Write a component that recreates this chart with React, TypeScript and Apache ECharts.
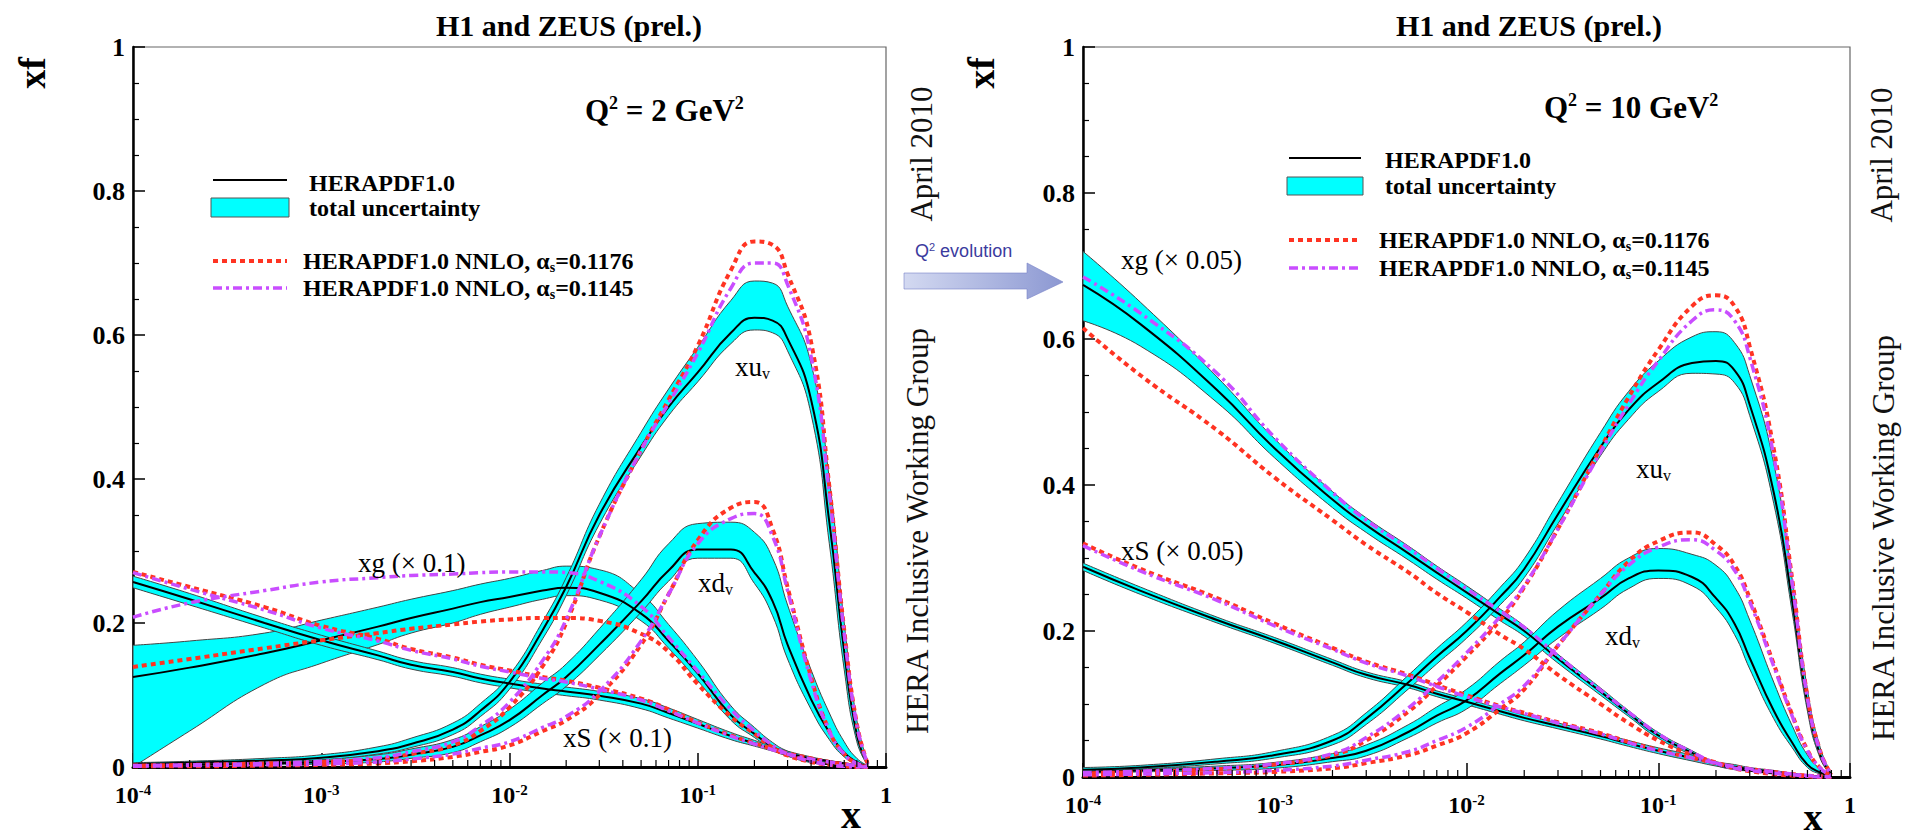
import React, { useEffect, useRef } from 'react';
import * as echarts from 'echarts';

// ---------- shared x grid ----------
const X_GRID = [1e-4, 2e-4, 5e-4, 1e-3, 2e-3, 3e-3, 5e-3, 7e-3, 1e-2, 1.5e-2, 2e-2, 3e-2, 5e-2, 0.07, 0.1, 0.15, 0.2, 0.25, 0.3, 0.4, 0.5, 0.6, 0.7, 0.8];

// ---------- Left panel: Q^2 = 2 GeV^2 ----------
const L_UV = [0.004, 0.006, 0.009, 0.013, 0.022, 0.032, 0.052, 0.078, 0.118, 0.19, 0.25, 0.35, 0.445, 0.5, 0.548, 0.603, 0.624, 0.62, 0.595, 0.51, 0.34, 0.16, 0.045, 0.004];
const L_UV_HI = [0.006, 0.008, 0.012, 0.017, 0.028, 0.04, 0.061, 0.088, 0.128, 0.202, 0.263, 0.365, 0.465, 0.525, 0.583, 0.648, 0.675, 0.672, 0.64, 0.56, 0.4, 0.2, 0.065, 0.006];
const L_UV_LO = [0.002, 0.004, 0.007, 0.01, 0.018, 0.027, 0.045, 0.07, 0.108, 0.178, 0.238, 0.337, 0.432, 0.488, 0.535, 0.588, 0.607, 0.603, 0.578, 0.49, 0.31, 0.135, 0.035, 0.002];
const L_UV_RED = [0.002, 0.003, 0.005, 0.007, 0.011, 0.018, 0.03, 0.05, 0.083, 0.14, 0.2, 0.32, 0.44, 0.51, 0.585, 0.69, 0.73, 0.725, 0.685, 0.59, 0.39, 0.19, 0.06, 0.004];
const L_UV_MAG = [0.002, 0.003, 0.005, 0.008, 0.013, 0.021, 0.035, 0.057, 0.09, 0.148, 0.205, 0.32, 0.44, 0.505, 0.575, 0.665, 0.7, 0.7, 0.67, 0.57, 0.38, 0.185, 0.058, 0.004];

const L_DV = [0.002, 0.003, 0.005, 0.007, 0.011, 0.017, 0.028, 0.044, 0.065, 0.1, 0.125, 0.17, 0.23, 0.273, 0.302, 0.302, 0.27, 0.23, 0.17, 0.094, 0.048, 0.02, 0.007, 0.001];
const L_DV_HI = [0.003, 0.005, 0.008, 0.011, 0.017, 0.025, 0.038, 0.056, 0.08, 0.117, 0.143, 0.192, 0.26, 0.31, 0.338, 0.34, 0.326, 0.29, 0.225, 0.135, 0.075, 0.035, 0.012, 0.002];
const L_DV_LO = [0.001, 0.002, 0.003, 0.004, 0.007, 0.012, 0.02, 0.035, 0.055, 0.088, 0.112, 0.155, 0.215, 0.258, 0.29, 0.29, 0.255, 0.21, 0.15, 0.08, 0.038, 0.014, 0.004, 0];
const L_DV_RED = [0.001, 0.001, 0.002, 0.003, 0.005, 0.008, 0.014, 0.021, 0.03, 0.05, 0.065, 0.1, 0.17, 0.24, 0.315, 0.36, 0.368, 0.33, 0.25, 0.125, 0.05, 0.018, 0.005, 0];
const L_DV_MAG = [0.001, 0.002, 0.003, 0.004, 0.007, 0.011, 0.018, 0.026, 0.035, 0.055, 0.07, 0.105, 0.175, 0.24, 0.31, 0.345, 0.352, 0.32, 0.245, 0.12, 0.05, 0.018, 0.005, 0];

const L_G = [0.125, 0.138, 0.158, 0.176, 0.195, 0.207, 0.22, 0.229, 0.236, 0.245, 0.249, 0.242, 0.213, 0.175, 0.13, 0.072, 0.046, 0.028, 0.018, 0.008, 0.004, 0.001, 0, 0];
const L_G_HI = [0.169, 0.175, 0.186, 0.204, 0.222, 0.233, 0.245, 0.254, 0.262, 0.273, 0.279, 0.274, 0.24, 0.198, 0.148, 0.085, 0.055, 0.034, 0.022, 0.01, 0.005, 0.002, 0.001, 0];
const L_G_LO = [0, 0.05, 0.115, 0.144, 0.17, 0.186, 0.2, 0.212, 0.222, 0.233, 0.238, 0.232, 0.203, 0.165, 0.12, 0.065, 0.041, 0.024, 0.015, 0.006, 0.003, 0.001, 0, 0];
const L_G_RED = [0.139, 0.15, 0.165, 0.176, 0.186, 0.192, 0.198, 0.202, 0.205, 0.207, 0.207, 0.203, 0.185, 0.16, 0.115, 0.07, 0.046, 0.027, 0.016, 0.007, 0.003, 0.001, 0, 0];
const L_G_MAG = [0.208, 0.228, 0.245, 0.257, 0.263, 0.266, 0.268, 0.27, 0.271, 0.271, 0.27, 0.258, 0.223, 0.18, 0.133, 0.08, 0.05, 0.03, 0.018, 0.008, 0.003, 0.001, 0, 0];

const L_S = [0.257, 0.233, 0.2, 0.176, 0.155, 0.142, 0.132, 0.123, 0.116, 0.109, 0.105, 0.099, 0.088, 0.075, 0.06, 0.043, 0.033, 0.025, 0.019, 0.012, 0.008, 0.005, 0.002, 0.001];
const L_S_HI = [0.265, 0.241, 0.207, 0.183, 0.161, 0.148, 0.138, 0.129, 0.122, 0.115, 0.111, 0.105, 0.095, 0.082, 0.066, 0.048, 0.037, 0.028, 0.022, 0.014, 0.009, 0.006, 0.003, 0.001];
const L_S_LO = [0.249, 0.225, 0.193, 0.169, 0.149, 0.136, 0.126, 0.117, 0.11, 0.103, 0.099, 0.093, 0.081, 0.068, 0.054, 0.038, 0.029, 0.022, 0.016, 0.01, 0.006, 0.004, 0.001, 0];
const L_S_RED = [0.271, 0.25, 0.222, 0.196, 0.178, 0.164, 0.152, 0.142, 0.134, 0.125, 0.12, 0.11, 0.095, 0.08, 0.062, 0.044, 0.033, 0.025, 0.019, 0.012, 0.007, 0.004, 0.002, 0];
const L_S_MAG = [0.27, 0.247, 0.218, 0.193, 0.175, 0.162, 0.15, 0.14, 0.132, 0.123, 0.118, 0.108, 0.093, 0.078, 0.061, 0.043, 0.032, 0.024, 0.018, 0.011, 0.007, 0.004, 0.002, 0];

// ---------- Right panel: Q^2 = 10 GeV^2 ----------
const R_UV = [0.01, 0.013, 0.021, 0.03, 0.05, 0.08, 0.13, 0.165, 0.2, 0.247, 0.285, 0.36, 0.452, 0.503, 0.54, 0.567, 0.57, 0.557, 0.51, 0.39, 0.24, 0.1, 0.03, 0.003];
const R_UV_HI = [0.013, 0.016, 0.025, 0.035, 0.057, 0.088, 0.14, 0.176, 0.212, 0.26, 0.299, 0.376, 0.472, 0.528, 0.57, 0.603, 0.61, 0.595, 0.55, 0.43, 0.27, 0.12, 0.04, 0.005];
const R_UV_LO = [0.008, 0.011, 0.018, 0.026, 0.044, 0.072, 0.121, 0.155, 0.19, 0.236, 0.273, 0.347, 0.44, 0.49, 0.528, 0.553, 0.552, 0.54, 0.495, 0.375, 0.225, 0.09, 0.025, 0.002];
const R_UV_RED = [0.005, 0.007, 0.011, 0.017, 0.03, 0.05, 0.09, 0.125, 0.165, 0.215, 0.26, 0.34, 0.45, 0.52, 0.585, 0.645, 0.66, 0.645, 0.59, 0.45, 0.27, 0.11, 0.035, 0.003];
const R_UV_MAG = [0.006, 0.008, 0.012, 0.018, 0.032, 0.054, 0.095, 0.13, 0.17, 0.22, 0.262, 0.34, 0.445, 0.51, 0.57, 0.625, 0.64, 0.625, 0.575, 0.44, 0.265, 0.108, 0.034, 0.003];

const R_DV = [0.007, 0.009, 0.012, 0.016, 0.026, 0.036, 0.062, 0.084, 0.105, 0.142, 0.167, 0.206, 0.245, 0.272, 0.283, 0.274, 0.245, 0.21, 0.163, 0.091, 0.047, 0.017, 0.006, 0.001];
const R_DV_HI = [0.009, 0.011, 0.015, 0.02, 0.032, 0.044, 0.072, 0.096, 0.12, 0.159, 0.185, 0.228, 0.272, 0.3, 0.313, 0.305, 0.29, 0.26, 0.215, 0.13, 0.07, 0.03, 0.011, 0.002];
const R_DV_LO = [0.005, 0.007, 0.009, 0.012, 0.021, 0.029, 0.054, 0.074, 0.093, 0.128, 0.153, 0.19, 0.23, 0.258, 0.272, 0.262, 0.232, 0.195, 0.148, 0.08, 0.04, 0.013, 0.004, 0];
const R_DV_RED = [0.002, 0.003, 0.005, 0.007, 0.012, 0.019, 0.03, 0.043, 0.06, 0.093, 0.12, 0.18, 0.25, 0.295, 0.323, 0.335, 0.318, 0.29, 0.245, 0.155, 0.085, 0.037, 0.012, 0.002];
const R_DV_MAG = [0.003, 0.004, 0.006, 0.009, 0.015, 0.023, 0.035, 0.05, 0.068, 0.1, 0.125, 0.18, 0.25, 0.29, 0.315, 0.325, 0.31, 0.283, 0.24, 0.152, 0.083, 0.036, 0.012, 0.002];

const R_G = [0.674, 0.62, 0.53, 0.45, 0.38, 0.345, 0.306, 0.28, 0.253, 0.222, 0.2, 0.162, 0.117, 0.087, 0.057, 0.033, 0.018, 0.012, 0.009, 0.005, 0.003, 0.001, 0, 0];
const R_G_HI = [0.72, 0.65, 0.548, 0.463, 0.391, 0.355, 0.316, 0.289, 0.262, 0.23, 0.207, 0.168, 0.122, 0.091, 0.061, 0.036, 0.02, 0.014, 0.01, 0.006, 0.003, 0.001, 0, 0];
const R_G_LO = [0.625, 0.59, 0.513, 0.437, 0.369, 0.335, 0.297, 0.271, 0.245, 0.214, 0.193, 0.156, 0.112, 0.083, 0.053, 0.03, 0.016, 0.01, 0.008, 0.004, 0.002, 0.001, 0, 0];
const R_G_RED = [0.615, 0.55, 0.475, 0.41, 0.352, 0.318, 0.28, 0.252, 0.226, 0.195, 0.175, 0.14, 0.1, 0.074, 0.05, 0.03, 0.02, 0.012, 0.008, 0.004, 0.002, 0.001, 0, 0];
const R_G_MAG = [0.685, 0.635, 0.553, 0.465, 0.39, 0.352, 0.313, 0.286, 0.258, 0.227, 0.205, 0.166, 0.119, 0.089, 0.059, 0.034, 0.019, 0.012, 0.009, 0.005, 0.003, 0.001, 0, 0];

const R_S = [0.288, 0.255, 0.215, 0.187, 0.157, 0.14, 0.126, 0.114, 0.103, 0.09, 0.081, 0.07, 0.056, 0.046, 0.036, 0.026, 0.018, 0.014, 0.011, 0.007, 0.004, 0.002, 0.001, 0];
const R_S_HI = [0.293, 0.26, 0.219, 0.191, 0.161, 0.144, 0.13, 0.118, 0.107, 0.094, 0.085, 0.074, 0.06, 0.05, 0.04, 0.03, 0.021, 0.017, 0.013, 0.009, 0.005, 0.003, 0.001, 0];
const R_S_LO = [0.283, 0.25, 0.211, 0.183, 0.153, 0.136, 0.122, 0.11, 0.099, 0.086, 0.077, 0.066, 0.052, 0.042, 0.032, 0.022, 0.015, 0.011, 0.009, 0.005, 0.003, 0.001, 0, 0];
const R_S_RED = [0.32, 0.285, 0.245, 0.21, 0.177, 0.158, 0.14, 0.126, 0.112, 0.097, 0.088, 0.075, 0.06, 0.048, 0.037, 0.026, 0.019, 0.014, 0.011, 0.007, 0.004, 0.002, 0.001, 0];
const R_S_MAG = [0.317, 0.282, 0.242, 0.207, 0.175, 0.156, 0.138, 0.124, 0.11, 0.096, 0.087, 0.074, 0.059, 0.047, 0.036, 0.026, 0.019, 0.014, 0.011, 0.007, 0.004, 0.002, 0.001, 0];

// ---------- axis decoration ----------
const DECADES = [1e-4, 1e-3, 1e-2, 1e-1];
const MANTISSAS = [2, 3, 4, 5, 6, 7, 8, 9];
const Y_TICKS_MAJOR = 0.2;

const SERIF = 'Liberation Serif';
const CYAN = '#00ffff';
const RED = '#ff3322';
const MAGENTA = '#c94dff';
const SMOOTH = 0.5;

function smoothPath(pts: number[][], smooth: number, start: string): string {
  let d = '';
  let prevX = 0, prevY = 0, cpx0 = 0, cpy0 = 0;
  const n = pts.length;
  const f = (v: number) => v.toFixed(2);
  for (let k = 0; k < n; k++) {
    const x = pts[k][0], y = pts[k][1];
    if (k === 0) {
      d += `${start} ${f(x)} ${f(y)} `;
      cpx0 = x; cpy0 = y;
    } else {
      let cpx1 = x, cpy1 = y, ncx = x, ncy = y;
      if (k < n - 1) {
        const nx = pts[k + 1][0], ny = pts[k + 1][1];
        const vx = nx - prevX, vy = ny - prevY;
        const l0 = Math.hypot(x - prevX, y - prevY) || 1e-6;
        const l1 = Math.hypot(nx - x, ny - y) || 1e-6;
        const r = l1 / (l0 + l1);
        ncx = x + vx * smooth * r; ncy = y + vy * smooth * r;
        ncx = Math.max(Math.min(ncx, Math.max(nx, x)), Math.min(nx, x));
        ncy = Math.max(Math.min(ncy, Math.max(ny, y)), Math.min(ny, y));
        const vx2 = ncx - x, vy2 = ncy - y;
        cpx1 = x - vx2 * l0 / l1; cpy1 = y - vy2 * l0 / l1;
        cpx1 = Math.max(Math.min(cpx1, Math.max(prevX, x)), Math.min(prevX, x));
        cpy1 = Math.max(Math.min(cpy1, Math.max(prevY, y)), Math.min(prevY, y));
        const vx3 = x - cpx1, vy3 = y - cpy1;
        ncx = x + vx3 * l1 / l0; ncy = y + vy3 * l1 / l0;
      }
      d += `C ${f(cpx0)} ${f(cpy0)} ${f(cpx1)} ${f(cpy1)} ${f(x)} ${f(y)} `;
      cpx0 = ncx; cpy0 = ncy;
    }
    prevX = x; prevY = y;
  }
  return d;
}

function bandSeries(grid: number, lo: number[], hi: number[]) {
  return {
    type: 'custom',
    coordinateSystem: 'cartesian2d',
    xAxisIndex: grid,
    yAxisIndex: grid,
    silent: true,
    z: 2,
    data: X_GRID.map((x, i) => [x, lo[i], hi[i]]),
    encode: { x: 0, y: [1, 2] },
    renderItem: (params: any, api: any) => {
      if (params.dataIndex !== 0) return null;
      const up = X_GRID.map((x, i) => api.coord([x, hi[i]]));
      const dn = X_GRID.map((x, i) => api.coord([x, lo[i]])).reverse();
      const d = smoothPath(up, SMOOTH, 'M') + smoothPath(dn, SMOOTH, 'L') + 'Z';
      return {
        type: 'path',
        shape: { pathData: d },
        style: { fill: CYAN, stroke: '#444', lineWidth: 1 },
      };
    },
  };
}

function lineSeries(grid: number, ys: number[], color: string, width: number, dash: any, z: number) {
  return {
    type: 'line',
    xAxisIndex: grid,
    yAxisIndex: grid,
    data: X_GRID.map((x, i) => [x, ys[i]]),
    symbol: 'none',
    showSymbol: false,
    smooth: SMOOTH,
    silent: true,
    z,
    lineStyle: { color, width, type: dash, cap: 'butt' },
  };
}

function minorTickSeries(grid: number) {
  const data: number[][] = [];
  DECADES.forEach((d) => MANTISSAS.forEach((m) => data.push([m * d, 0])));
  return {
    type: 'custom',
    coordinateSystem: 'cartesian2d',
    xAxisIndex: grid,
    yAxisIndex: grid,
    silent: true,
    z: 6,
    data,
    renderItem: (params: any, api: any) => {
      const p = api.coord([api.value(0), 0]);
      return {
        type: 'line',
        shape: { x1: p[0], y1: p[1], x2: p[0], y2: p[1] - 7 },
        style: { stroke: '#000', lineWidth: 1.2 },
      };
    },
  };
}

function panelSeries(grid: number, sets: { lo: number[]; hi: number[]; c: number[]; r: number[]; m: number[] }[]) {
  const out: any[] = [];
  sets.forEach((s) => out.push(bandSeries(grid, s.lo, s.hi)));
  sets.forEach((s) => out.push(lineSeries(grid, s.c, '#000', 2, 'solid', 3)));
  sets.forEach((s) => out.push(lineSeries(grid, s.r, RED, 4, [5, 4], 4)));
  sets.forEach((s) => out.push(lineSeries(grid, s.m, MAGENTA, 3.5, [9, 4, 3, 4], 5)));
  out.push(minorTickSeries(grid));
  return out;
}

function xAxis(grid: number) {
  return {
    type: 'log',
    logBase: 10,
    gridIndex: grid,
    min: 1e-4,
    max: 1,
    splitNumber: 4,
    axisLine: { show: true, lineStyle: { color: '#000', width: 3 } },
    axisTick: { show: true, inside: true, length: 14, lineStyle: { color: '#000', width: 1.5 } },
    minorTick: { show: false },
    splitLine: { show: false },
    axisLabel: {
      margin: 15,
      color: '#000',
      fontFamily: SERIF,
      fontWeight: 'bold',
      fontSize: 24,
      lineHeight: 26,
      formatter: (v: number) => {
        const e = Math.round(Math.log10(v));
        return e === 0 ? '1' : `10{sup|${e}}`;
      },
      rich: {
        sup: { fontSize: 15, fontWeight: 'bold', fontFamily: SERIF, color: '#000', lineHeight: 14, verticalAlign: 'top' },
      },
    },
  };
}

function yAxis(grid: number) {
  return {
    type: 'value',
    gridIndex: grid,
    min: 0,
    max: 1,
    interval: Y_TICKS_MAJOR,
    axisLine: { show: true, lineStyle: { color: '#000', width: 2.5 } },
    axisTick: { show: true, inside: true, length: 12, lineStyle: { color: '#000', width: 1.5 } },
    minorTick: { show: true, splitNumber: 4, length: 6, lineStyle: { color: '#000', width: 1.2 } },
    splitLine: { show: false },
    axisLabel: {
      margin: 8,
      color: '#000',
      fontFamily: SERIF,
      fontWeight: 'bold',
      fontSize: 26,
    },
  };
}

function txt(x: number, y: number, text: string, opts: any = {}) {
  const { rotation, align, size, weight, color, family, rich, lineHeight } = opts;
  return {
    type: 'text',
    x,
    y,
    rotation: rotation || 0,
    silent: true,
    z: 10,
    style: {
      text,
      fill: color || '#000',
      fontSize: size || 24,
      fontWeight: weight || 'normal',
      fontFamily: family || SERIF,
      lineHeight: lineHeight,
      align: align || 'left',
      verticalAlign: 'middle',
      rich,
    },
  };
}

const SUP = (size: number) => ({ sup: { fontSize: size, fontWeight: 'bold', fontFamily: SERIF, lineHeight: size - 2, verticalAlign: 'top' } });
const SUB = (size: number, weight = 'bold') => ({ sub: { fontSize: size, fontWeight: weight, fontFamily: SERIF, lineHeight: size - 2, verticalAlign: 'bottom' } });

function legendGraphics(lx1: number, lx2: number, tx: number, tx2: number, yLine: number, yRect: number, rectH: number, yText1: number, yText2: number, yRed: number, yMag: number) {
  return [
    { type: 'line', silent: true, z: 10, shape: { x1: lx1, y1: yLine, x2: lx2, y2: yLine }, style: { stroke: '#000', lineWidth: 2 } },
    txt(tx, yText1, 'HERAPDF1.0', { size: 24, weight: 'bold' }),
    { type: 'rect', silent: true, z: 10, shape: { x: lx1 - 2, y: yRect, width: lx2 - lx1 + 4, height: rectH }, style: { fill: CYAN, stroke: '#555', lineWidth: 1 } },
    txt(tx, yText2, 'total uncertainty', { size: 24, weight: 'bold' }),
    { type: 'line', silent: true, z: 10, shape: { x1: lx1, y1: yRed, x2: lx2, y2: yRed }, style: { stroke: RED, lineWidth: 4, lineDash: [5, 4] } },
    txt(tx2, yRed, 'HERAPDF1.0 NNLO, α{sub|s}=0.1176', { size: 24, weight: 'bold', lineHeight: 26, rich: SUB(14) }),
    { type: 'line', silent: true, z: 10, shape: { x1: lx1, y1: yMag, x2: lx2, y2: yMag }, style: { stroke: MAGENTA, lineWidth: 3.5, lineDash: [9, 4, 3, 4] } },
    txt(tx2, yMag, 'HERAPDF1.0 NNLO, α{sub|s}=0.1145', { size: 24, weight: 'bold', lineHeight: 26, rich: SUB(14) }),
  ];
}

function buildOption() {
  const leftSets = [
    { lo: L_G_LO, hi: L_G_HI, c: L_G, r: L_G_RED, m: L_G_MAG },
    { lo: L_S_LO, hi: L_S_HI, c: L_S, r: L_S_RED, m: L_S_MAG },
    { lo: L_DV_LO, hi: L_DV_HI, c: L_DV, r: L_DV_RED, m: L_DV_MAG },
    { lo: L_UV_LO, hi: L_UV_HI, c: L_UV, r: L_UV_RED, m: L_UV_MAG },
  ];
  const rightSets = [
    { lo: R_G_LO, hi: R_G_HI, c: R_G, r: R_G_RED, m: R_G_MAG },
    { lo: R_S_LO, hi: R_S_HI, c: R_S, r: R_S_RED, m: R_S_MAG },
    { lo: R_DV_LO, hi: R_DV_HI, c: R_DV, r: R_DV_RED, m: R_DV_MAG },
    { lo: R_UV_LO, hi: R_UV_HI, c: R_UV, r: R_UV_RED, m: R_UV_MAG },
  ];

  const labelRich = SUB(16, 'normal');

  const graphics: any[] = [
    // titles
    txt(569, 25, 'H1 and ZEUS (prel.)', { size: 30, weight: 'bold', align: 'center' }),
    txt(1529, 25, 'H1 and ZEUS (prel.)', { size: 30, weight: 'bold', align: 'center' }),
    // y axis names
    txt(32, 73, 'xf', { size: 38, weight: 'bold', align: 'center', rotation: Math.PI / 2 }),
    txt(981, 73, 'xf', { size: 38, weight: 'bold', align: 'center', rotation: Math.PI / 2 }),
    // x axis names
    txt(851, 814, 'x', { size: 40, weight: 'bold', align: 'center' }),
    txt(1813, 817, 'x', { size: 38, weight: 'bold', align: 'center' }),
    // Q2 labels
    txt(585, 110, 'Q{sup|2} = 2 GeV{sup|2}', { size: 31, weight: 'bold', lineHeight: 32, rich: SUP(18) }),
    txt(1544, 107, 'Q{sup|2} = 10 GeV{sup|2}', { size: 31, weight: 'bold', lineHeight: 32, rich: SUP(18) }),
    // side texts
    txt(921, 154, 'April 2010', { size: 31, align: 'center', rotation: Math.PI / 2, color: '#111' }),
    txt(917, 531, 'HERA Inclusive Working Group', { size: 31, align: 'center', rotation: Math.PI / 2, color: '#111' }),
    txt(1881, 155, 'April 2010', { size: 31, align: 'center', rotation: Math.PI / 2, color: '#111' }),
    txt(1883, 538, 'HERA Inclusive Working Group', { size: 31, align: 'center', rotation: Math.PI / 2, color: '#111' }),
    // curve labels left
    txt(358, 563, 'xg (× 0.1)', { size: 27 }),
    txt(735, 367, 'xu{sub|v}', { size: 27, lineHeight: 28, rich: labelRich }),
    txt(698, 583, 'xd{sub|v}', { size: 27, lineHeight: 28, rich: labelRich }),
    txt(563, 738, 'xS (× 0.1)', { size: 27 }),
    // curve labels right
    txt(1121, 260, 'xg (× 0.05)', { size: 27 }),
    txt(1121, 551, 'xS (× 0.05)', { size: 27 }),
    txt(1636, 469, 'xu{sub|v}', { size: 27, lineHeight: 28, rich: labelRich }),
    txt(1605, 636, 'xd{sub|v}', { size: 27, lineHeight: 28, rich: labelRich }),
    // Q2 evolution arrow
    {
      type: 'polygon',
      silent: true,
      z: 10,
      shape: { points: [[904, 273], [1027, 273], [1027, 263], [1063, 282], [1027, 299], [1027, 289], [904, 289]] },
      style: {
        fill: new echarts.graphic.LinearGradient(0, 0, 1, 0, [
          { offset: 0, color: '#d3d9f1' },
          { offset: 1, color: '#8c98d2' },
        ]),
        stroke: 'rgba(120,130,200,0.6)',
        lineWidth: 1,
      },
    },
    txt(915, 251, 'Q{sup|2} evolution', {
      size: 18,
      family: 'Liberation Sans',
      color: '#3b3b9e',
      lineHeight: 20,
      rich: { sup: { fontSize: 11, fontFamily: 'Liberation Sans', color: '#3b3b9e', lineHeight: 10, verticalAlign: 'top' } },
    }),
    ...legendGraphics(213, 287, 309, 303, 180, 198, 19, 183, 208, 261, 288),
    ...legendGraphics(1289, 1361, 1385, 1379, 158, 177, 18, 160, 186, 240, 268),
  ];

  return {
    animation: false,
    backgroundColor: '#fff',
    textStyle: { fontFamily: SERIF },
    grid: [
      { left: 133, top: 47, width: 753, height: 720, show: true, borderColor: '#666', borderWidth: 1.2, backgroundColor: 'transparent' },
      { left: 1083, top: 47, width: 767, height: 730, show: true, borderColor: '#666', borderWidth: 1.2, backgroundColor: 'transparent' },
    ],
    xAxis: [xAxis(0), xAxis(1)],
    yAxis: [yAxis(0), yAxis(1)],
    series: [...panelSeries(0, leftSets), ...panelSeries(1, rightSets)],
    graphic: { elements: graphics },
  };
}

export default function App() {
  const ref = useRef<HTMLDivElement>(null);
  useEffect(() => {
    if (!ref.current) return;
    const chart = echarts.init(ref.current, null, { renderer: 'svg' });
    chart.setOption(buildOption() as any);
    return () => chart.dispose();
  }, []);
  return (
    <div
      ref={ref}
      style={{ position: 'fixed', left: 0, top: 0, width: 1908, height: 838, background: '#fff' }}
    />
  );
}
